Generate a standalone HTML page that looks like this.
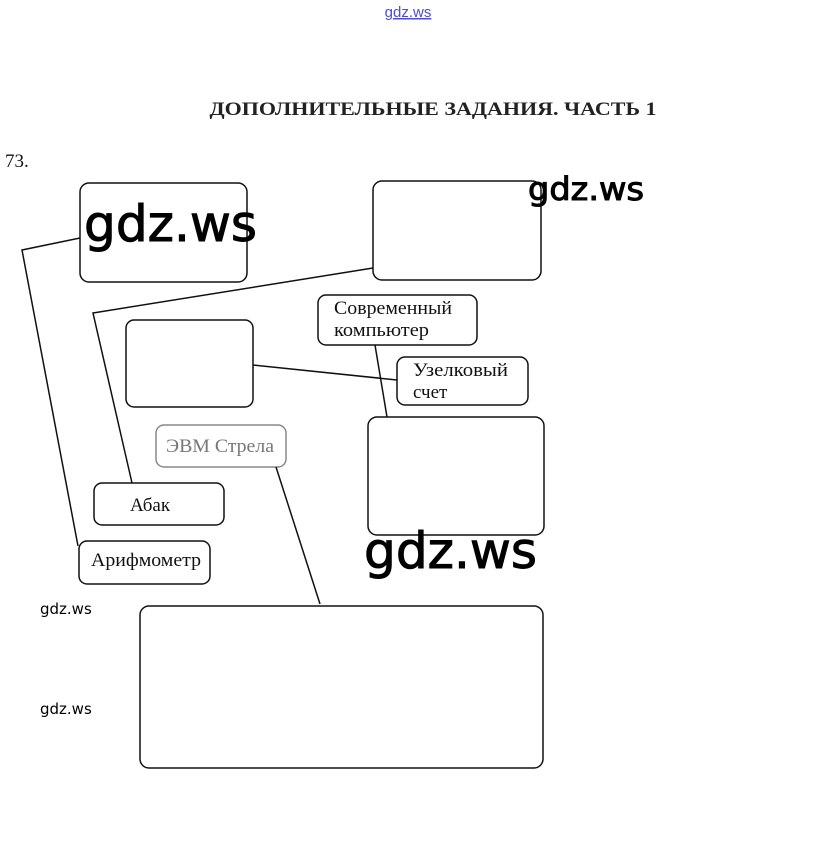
<!DOCTYPE html>
<html><head><meta charset="utf-8"><style>
html,body{margin:0;padding:0;background:#fff;}
svg{display:block;}
</style></head><body>
<svg width="815" height="865" viewBox="0 0 815 865" xmlns="http://www.w3.org/2000/svg">
<rect width="815" height="865" fill="#fff"/>
<text x="408" y="17" text-anchor="middle" font-family="Liberation Sans, sans-serif" font-size="15" fill="#4a4ae0" text-decoration="underline">gdz.ws</text>
<text x="433" y="115" text-anchor="middle" font-family="Liberation Serif, serif" font-weight="bold" font-size="19" fill="#222" textLength="447" lengthAdjust="spacingAndGlyphs">ДОПОЛНИТЕЛЬНЫЕ ЗАДАНИЯ. ЧАСТЬ 1</text>
<text x="5" y="167" font-family="Liberation Serif, serif" font-size="19" fill="#111">73.</text>
<g fill="none" stroke="#111" stroke-width="1.5">
<rect x="80" y="183" width="167" height="99" rx="9"/>
<rect x="373" y="181" width="168" height="99" rx="9"/>
<rect x="318" y="295" width="159" height="50" rx="8"/>
<rect x="126" y="320" width="127" height="87" rx="8"/>
<rect x="397" y="357" width="131" height="48" rx="8"/>
<rect x="156" y="425" width="130" height="42" rx="8" stroke="#888"/>
<rect x="368" y="417" width="176" height="118" rx="9"/>
<rect x="94" y="483" width="130" height="42" rx="8"/>
<rect x="79" y="541" width="131" height="43" rx="8"/>
<rect x="140" y="606" width="403" height="162" rx="9"/>
<polyline points="80,238 22,250 78,546"/>
<polyline points="373,268 93,313 132,483"/>
<line x1="253" y1="365" x2="397" y2="380"/>
<line x1="375" y1="345" x2="387" y2="417"/>
<line x1="276" y1="467" x2="320" y2="604"/>
</g>
<g font-family="Liberation Serif, serif" font-size="19" fill="#111">
<text x="334" y="314" textLength="118" lengthAdjust="spacingAndGlyphs">Современный</text>
<text x="334" y="336" textLength="95" lengthAdjust="spacingAndGlyphs">компьютер</text>
<text x="413" y="376" textLength="95" lengthAdjust="spacingAndGlyphs">Узелковый</text>
<text x="413" y="398">счет</text>
<text x="166" y="452" fill="#777" textLength="108" lengthAdjust="spacingAndGlyphs">ЭВМ Стрела</text>
<text x="130" y="511">Абак</text>
<text x="91" y="566" textLength="110" lengthAdjust="spacingAndGlyphs">Арифмометр</text>
</g>
<g font-family="DejaVu Sans, Liberation Sans, sans-serif" fill="#000" stroke="#000" stroke-width="1">
<text x="84" y="241" font-size="50" textLength="173" lengthAdjust="spacingAndGlyphs">gdz.ws</text>
<text x="528" y="200" font-size="32" textLength="116" lengthAdjust="spacingAndGlyphs">gdz.ws</text>
<text x="364" y="568" font-size="50" textLength="173" lengthAdjust="spacingAndGlyphs">gdz.ws</text>
</g>
<g font-family="DejaVu Sans, Liberation Sans, sans-serif" fill="#000">
<text x="40" y="614" font-size="15">gdz.ws</text>
<text x="40" y="714" font-size="15">gdz.ws</text>
</g>
</svg>
</body></html>
